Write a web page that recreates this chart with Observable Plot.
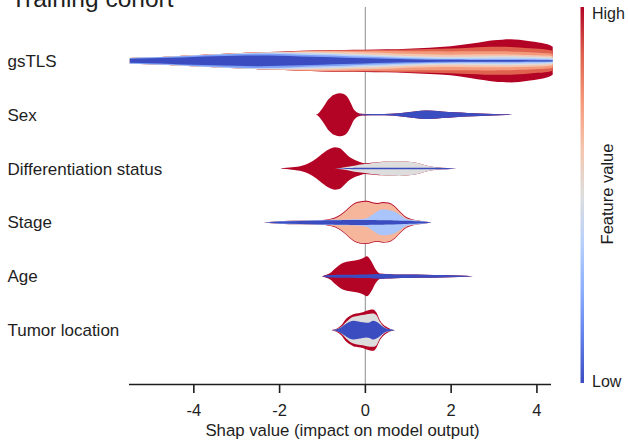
<!DOCTYPE html>
<html>
<head>
<meta charset="utf-8">
<script src="https://cdn.jsdelivr.net/npm/d3@7"></script>
<script src="https://cdn.jsdelivr.net/npm/@observablehq/plot@0.6"></script>
<style>
  body { margin: 0; background: #fff; }
  #wrap { position: relative; width: 628px; height: 446px; overflow: hidden; font-family: "Liberation Sans", Arial, sans-serif; background: #fff; }
  #wrap svg { display: block; }
</style>
</head>
<body>
<div id="wrap"></div>
<script>
// ---------- data ----------
const titleText = "Training cohort";
const xLabel = "Shap value (impact on model output)";
const legendTitle = "Feature value";
const legendHigh = "High";
const legendLow = "Low";
const features = ["gsTLS", "Sex", "Differentiation status", "Stage", "Age", "Tumor location"];
const xTicks = [-4, -2, 0, 2, 4];
const coolwarmStops = ["#3b4cc0", "#6282ea", "#8db0fe", "#b8d0f9", "#dddddd", "#f5c4ad", "#f49a7b", "#de604d", "#b40426"];

// Layered violins: for every SHAP position, the outline half-width (density) of each
// feature-value layer, lowest feature value first (each outline includes the lower layers).
const gsTLS_levels = [0, 0.2, 0.38, 0.5, 0.62, 0.75, 0.87, 1];
const gsTLS_x = [-5.48, -5.0, -4.5, -4.0, -3.5, -3.0, -2.5, -2.0, -1.5, -1.0, -0.5, 0, 0.5, 1.0, 1.5, 2.0, 2.45, 2.8, 3.0, 3.2, 3.4, 3.6, 3.85, 4.05, 4.2, 4.32, 4.38];
const gsTLS_widths = [
  [2.0, 2.6, 2.8, 2.8, 2.8, 2.8, 2.8, 2.8],
  [2.5, 3.3, 3.5, 3.5, 3.5, 3.5, 3.5, 3.5],
  [3.1, 4.0, 4.2, 4.3, 4.3, 4.3, 4.3, 4.3],
  [3.9, 5.1, 5.4, 5.45, 5.5, 5.5, 5.5, 5.5],
  [4.5, 6.0, 6.3, 6.4, 6.45, 6.5, 6.5, 6.5],
  [5.0, 6.8, 7.2, 7.35, 7.45, 7.5, 7.5, 7.5],
  [5.3, 7.2, 7.9, 8.1, 8.2, 8.3, 8.3, 8.3],
  [5.0, 6.9, 8.0, 8.4, 8.7, 8.9, 9.0, 9.0],
  [4.3, 6.2, 7.5, 8.3, 9.2, 9.7, 9.9, 10.0],
  [3.8, 5.5, 7.0, 8.0, 9.3, 10.1, 10.4, 10.6],
  [3.2, 4.8, 6.3, 7.4, 9.0, 10.1, 10.6, 10.9],
  [2.6, 4.0, 5.5, 6.7, 8.5, 10.0, 10.7, 11.1],
  [2.0, 3.3, 4.7, 5.8, 7.8, 9.8, 10.9, 11.5],
  [1.5, 2.6, 3.8, 4.9, 7.0, 9.6, 11.3, 12.2],
  [1.2, 2.1, 3.2, 4.3, 6.5, 9.5, 11.8, 13.2],
  [1.0, 1.8, 3.0, 4.0, 6.2, 9.4, 12.3, 14.5],
  [0.9, 1.7, 3.0, 4.2, 6.3, 9.5, 13.2, 17.0],
  [0.9, 1.7, 3.1, 4.4, 6.5, 9.6, 13.8, 19.3],
  [0.8, 1.7, 3.2, 4.5, 6.5, 9.6, 14.0, 20.5],
  [0.8, 1.7, 3.3, 4.5, 6.5, 9.5, 14.0, 21.2],
  [0.8, 1.7, 3.3, 4.5, 6.4, 9.3, 13.8, 21.5],
  [0.8, 1.6, 3.2, 4.4, 6.2, 9.0, 13.4, 21.0],
  [0.7, 1.5, 3.0, 4.2, 5.9, 8.6, 12.6, 19.5],
  [0.7, 1.4, 2.8, 4.0, 5.6, 8.2, 12.0, 18.3],
  [0.6, 1.3, 2.6, 3.7, 5.3, 7.8, 11.3, 17.0],
  [0.6, 1.2, 2.4, 3.5, 5.0, 7.3, 10.6, 15.5],
  [0.5, 1.1, 2.2, 3.2, 4.7, 6.8, 10.0, 14.0]
];

const sex_levels = [0, 1];
const sex_x = [-1.15, -1.1, -1.05, -0.98, -0.92, -0.86, -0.8, -0.75, -0.69, -0.63, -0.57, -0.51, -0.46, -0.42, -0.38, -0.35, -0.31, -0.28, -0.23, -0.19, -0.12, 0, 0.3, 0.6, 0.8, 1.0, 1.2, 1.4, 1.6, 1.8, 2.1, 2.4, 2.7, 3.0, 3.3, 3.45];
const sex_widths = [
  [0, 0], [0, 0.8], [0, 3], [0, 7], [0, 11], [0, 15], [0, 17.5], [0, 19.5], [0, 20.5], [0, 21.2],
  [0, 21.5], [0, 21], [0, 20], [0, 18.5], [0, 16], [0, 13.5], [0, 10], [0, 7], [0, 4], [0, 2.5],
  [0.2, 1.2], [0.5, 0.8], [0.6, 0.6], [0.9, 0.9], [1.5, 1.5], [2.5, 2.5], [3.5, 3.5], [4.2, 4.2],
  [4.0, 4.0], [3.3, 3.3], [2.5, 2.5], [1.8, 1.8], [1.2, 1.2], [0.8, 0.8], [0.4, 0.4], [0, 0]
];

const diff_levels = [0, 0.5, 1];
const diff_x = [-1.95, -1.7, -1.45, -1.3, -1.13, -1.0, -0.89, -0.8, -0.7, -0.6, -0.54, -0.47, -0.4, -0.3, -0.19, -0.1, 0, 0.15, 0.27, 0.4, 0.58, 0.8, 0.97, 1.2, 1.35, 1.51, 1.65, 1.82, 2.0, 2.14];
const diff_widths = [
  [0, 0, 0.3], [0, 0, 1.2], [0, 0, 3], [0, 0, 5.5], [0, 0, 10], [0, 0, 14.5], [0, 0, 18], [0, 0, 20],
  [0, 0, 21.2], [0.2, 0.4, 20.5], [0.3, 0.7, 19], [0.4, 1.2, 16], [0.5, 1.7, 13], [0.6, 2.6, 10],
  [0.7, 3.4, 7.7], [0.7, 4.0, 6.3], [0.7, 4.5, 5.3], [0.7, 5.3, 5.8], [0.7, 6.0, 6.3], [0.7, 6.6, 6.7],
  [0.7, 7.2, 7.2], [0.7, 7.3, 7.3], [0.7, 7.0, 7.0], [0.7, 5.7, 5.7], [0.7, 4.0, 4.0], [0.7, 2.3, 2.3],
  [0.7, 1.3, 1.3], [0.6, 0.7, 0.7], [0.4, 0.4, 0.4], [0, 0, 0]
];

const stage_levels = [0, 0.333, 0.667, 1];
const stage_x = [-2.35, -2.0, -1.5, -1.0, -0.85, -0.7, -0.58, -0.45, -0.35, -0.2, -0.05, 0.05, 0.2, 0.3, 0.42, 0.55, 0.68, 0.82, 0.97, 1.1, 1.25, 1.4, 1.55];
const stage_widths = [
  [0, 0, 0, 0], [1.0, 1.3, 1.3, 1.3], [1.5, 1.9, 1.9, 1.9], [2.0, 2.4, 2.4, 2.4], [2.1, 2.5, 2.8, 3.2],
  [2.2, 2.6, 4.0, 4.8], [2.3, 2.7, 6.7, 7.6], [2.4, 2.8, 11, 11.9], [2.5, 2.9, 15, 15.9],
  [2.5, 3.1, 19.2, 20.1], [2.5, 3.5, 20.5, 21.4], [2.5, 4.5, 20.7, 21.6], [2.4, 8.5, 19.0, 19.9],
  [2.3, 11.5, 18.5, 19.4], [2.2, 12.8, 19.5, 20.4], [2.1, 12.5, 19.0, 19.9], [2.0, 11.0, 16.0, 16.9],
  [1.8, 7.5, 10.0, 10.9], [1.6, 3.5, 4.5, 5.3], [1.4, 2.5, 2.8, 3.2], [1.1, 1.8, 1.9, 1.9],
  [0.7, 1.0, 1.0, 1.0], [0, 0, 0, 0]
];

const age_levels = [0, 1];
const age_x = [-1.0, -0.9, -0.8, -0.7, -0.6, -0.5, -0.35, -0.2, -0.05, 0.05, 0.15, 0.25, 0.35, 0.5, 0.7, 1.0, 1.4, 1.8, 2.2, 2.52];
const age_widths = [
  [0, 0], [1.0, 1.5], [1.3, 3.5], [1.4, 7.5], [1.5, 11], [1.5, 13.5], [1.5, 15], [1.6, 16], [1.7, 18],
  [1.8, 20], [2.0, 15], [2.3, 7], [2.4, 2.8], [2.2, 2.3], [1.9, 1.9], [1.7, 1.7], [1.5, 1.5],
  [1.2, 1.2], [0.8, 0.8], [0, 0]
];

const tumor_levels = [0, 0.5, 1];
const tumor_x = [-0.76, -0.66, -0.55, -0.43, -0.35, -0.27, -0.15, -0.05, 0.04, 0.12, 0.19, 0.27, 0.35, 0.42, 0.5, 0.6, 0.7];
const tumor_widths = [
  [0, 0, 0.3], [0.8, 0.9, 1.5], [3.0, 3.3, 5.0], [6.7, 8.5, 11.7], [8.5, 11.5, 14.2], [9.3, 13.3, 16.0],
  [8.7, 14.5, 17.0], [7.8, 15.2, 17.8], [7.3, 16.0, 19.3], [8.0, 16.5, 20.3], [9.3, 16.7, 20.7],
  [8.3, 15.0, 17.5], [6.0, 8.3, 10.0], [3.5, 4.5, 6.0], [1.7, 2.0, 3.3], [0.8, 0.9, 1.2], [0, 0, 0]
];

// ---------- build ----------
const violins = [
  {x: gsTLS_x, levels: gsTLS_levels, widths: gsTLS_widths},
  {x: sex_x, levels: sex_levels, widths: sex_widths},
  {x: diff_x, levels: diff_levels, widths: diff_widths},
  {x: stage_x, levels: stage_levels, widths: stage_widths},
  {x: age_x, levels: age_levels, widths: age_widths},
  {x: tumor_x, levels: tumor_levels, widths: tumor_widths}
];

const coolwarm = d3.piecewise(d3.interpolateRgb, coolwarmStops);
const densityToRow = 1 / 53.8;
const ink = "#1e1e1e";
const font = "Liberation Sans, Arial, sans-serif";

const violinMarks = [];
violins.forEach((v, r) => {
  for (let k = v.levels.length - 1; k >= 0; k--) {
    const pts = v.x.map((x, i) => {
      let w = 0;
      for (let j = 0; j <= k; j++) w = Math.max(w, v.widths[i][j]);
      return {x, lo: r - w * densityToRow, hi: r + w * densityToRow, level: v.levels[k]};
    });
    violinMarks.push(Plot.area(pts, {x1: "x", y1: "lo", y2: "hi", fill: "level", curve: "monotone-x"}));
  }
});

const yDomain = [-1, features.length];

const chart = Plot.plot({
  width: 628,
  height: 446,
  marginLeft: 129,
  marginRight: 77,
  marginTop: 7,
  marginBottom: 62,
  style: {fontFamily: font, background: "white", color: ink},
  x: {domain: [-5.5, 4.34], axis: null},
  y: {domain: yDomain, reverse: true, axis: null},
  color: {type: "linear", domain: [0, 1], interpolate: coolwarm},
  marks: [
    Plot.ruleX([0], {stroke: "#a6a6a6", strokeWidth: 1.3}),
    ...violinMarks,
    Plot.ruleY([yDomain[1]], {stroke: ink, strokeWidth: 1.7}),
    Plot.axisX({ticks: xTicks, tickSize: 9, tickPadding: 11, tickFormat: d => String(d),
      fontSize: 16.5, stroke: ink, strokeWidth: 1.6, fill: ink, label: null}),
    Plot.text([xLabel], {frameAnchor: "bottom", dy: 51, dx: 2, text: d => d, fontSize: 16.8, fill: ink}),
    Plot.text(features, {y: (d, i) => i, text: d => d, frameAnchor: "left", textAnchor: "start",
      dx: -122, fontSize: 17, fill: ink})
  ]
});

const wrap = document.getElementById("wrap");
wrap.appendChild(chart);

// ---------- colour bar legend and title (overlay) ----------
const ov = d3.create("svg")
  .attr("width", 628).attr("height", 446)
  .style("position", "absolute").style("left", "0px").style("top", "0px")
  .style("pointer-events", "none")
  .attr("font-family", font);

const grad = ov.append("defs").append("linearGradient")
  .attr("id", "cbar").attr("x1", 0).attr("y1", 1).attr("x2", 0).attr("y2", 0);
coolwarmStops.forEach((c, i) => {
  grad.append("stop").attr("offset", i / (coolwarmStops.length - 1)).attr("stop-color", c);
});
ov.append("rect").attr("x", 580.5).attr("y", 7).attr("width", 3.5).attr("height", 376)
  .attr("fill", "url(#cbar)");
ov.append("text").attr("x", 592).attr("y", 18.5).attr("font-size", 16).attr("fill", ink).text(legendHigh);
ov.append("text").attr("x", 592).attr("y", 386.5).attr("font-size", 16).attr("fill", ink).text(legendLow);
ov.append("text").attr("transform", "translate(613,194) rotate(-90)").attr("text-anchor", "middle")
  .attr("font-size", 16.5).attr("fill", ink).text(legendTitle);
ov.append("text").attr("x", 11).attr("y", 6.5).attr("font-size", 24.5).attr("fill", ink).text(titleText);

wrap.appendChild(ov.node());
</script>
</body>
</html>
